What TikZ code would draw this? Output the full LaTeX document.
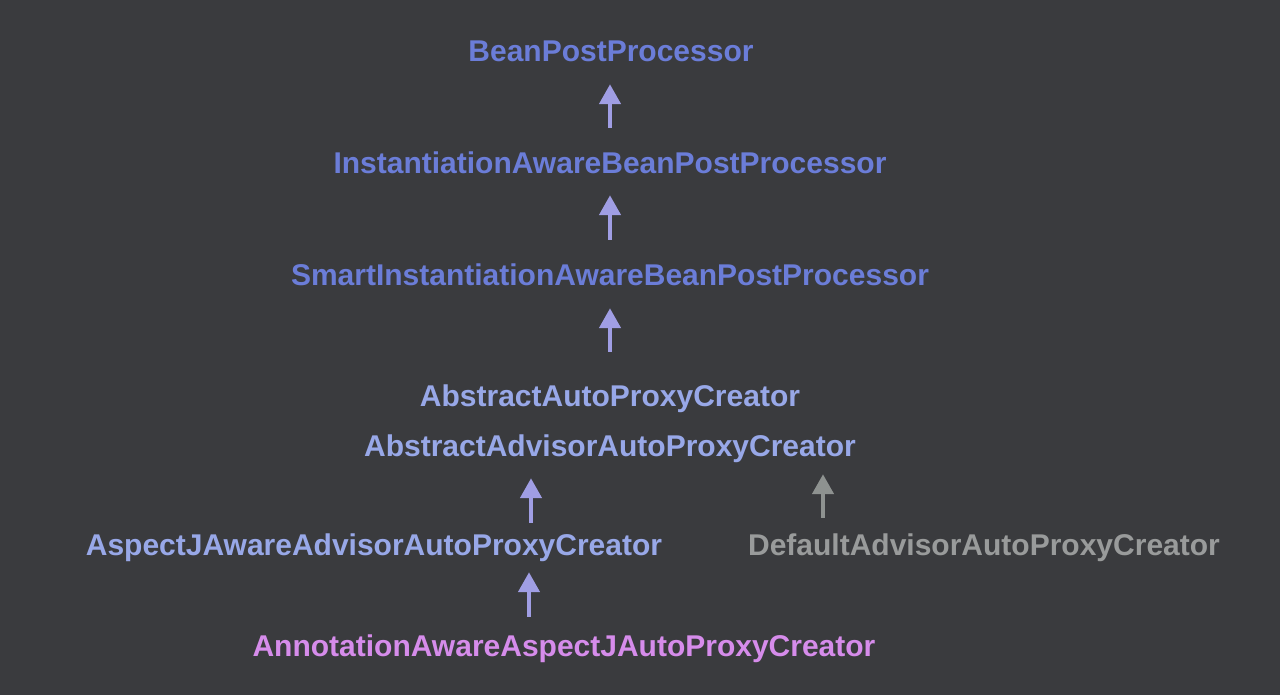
\documentclass[tikz,border=0pt]{standalone}
\usepackage{fontspec}
\setmainfont{Liberation Sans}
\usetikzlibrary{arrows.meta}

\definecolor{bgdark}{HTML}{3A3B3E}
\definecolor{ifaceblue}{HTML}{6B7DD8}
\definecolor{classblue}{HTML}{98A8E8}
\definecolor{targetpink}{HTML}{D68CEB}
\definecolor{othergray}{HTML}{999B9B}
\definecolor{arrowlav}{HTML}{A09EE4}
\definecolor{arrowgray}{HTML}{8E9290}

\begin{document}
\begin{tikzpicture}[x=1pt,y=-1pt]
\tikzstyle{every node}+=[inner sep=0pt,text height=22pt,text depth=6pt,font=\fontsize{30}{36}\selectfont\bfseries]
\tikzstyle{iface}=[text=ifaceblue]
\tikzstyle{cls}=[text=classblue]
\tikzstyle{target}=[text=targetpink]
\tikzstyle{other}=[text=othergray]
\tikzstyle{up}=[draw=arrowlav,line width=4.5pt,-{Triangle[length=20pt,width=21pt]}]
\tikzstyle{upgray}=[up,draw=arrowgray]
\fill [bgdark] (0,0) rectangle (1280,695);
\useasboundingbox (0,0) rectangle (1280,695);
\node [iface] (bpp) at (611,54) {BeanPostProcessor};
\node [iface] (iabpp) at (610,166) {InstantiationAwareBeanPostProcessor};
\node [iface] (siabpp) at (610,277) {SmartInstantiationAwareBeanPostProcessor};
\node [cls] (aapc) at (610,398) {AbstractAutoProxyCreator};
\node [cls] (aaapc) at (610,448) {AbstractAdvisorAutoProxyCreator};
\node [cls] (ajaapc) at (374,547) {AspectJAwareAdvisorAutoProxyCreator};
\node [other] (daapc) at (984,547) {DefaultAdvisorAutoProxyCreator};
\node [target] (aaajapc) at (564,648) {AnnotationAwareAspectJAutoProxyCreator};
\draw [up,shorten <=24pt,shorten >=16pt] (iabpp.north) -- (iabpp.north |- bpp.south);
\draw [up,shorten <=23pt,shorten >=15pt] (siabpp.north) -- (siabpp.north |- iabpp.south);
\draw [up,shorten <=32pt,shorten >=17pt] (aapc.north) -- (aapc.north |- siabpp.south);
\draw [up,shorten <=10pt,shorten >=16pt] ([xshift=157pt]ajaapc.north) -- ([xshift=157pt]ajaapc.north |- aaapc.south);
\draw [upgray,shorten <=15pt,shorten >=12pt] ([xshift=-161pt]daapc.north) -- ([xshift=-161pt]daapc.north |- aaapc.south);
\draw [up,shorten <=17pt,shorten >=11pt] ([xshift=-35pt]aaajapc.north) -- ([xshift=-35pt]aaajapc.north |- ajaapc.south);
\end{tikzpicture}
\end{document}
